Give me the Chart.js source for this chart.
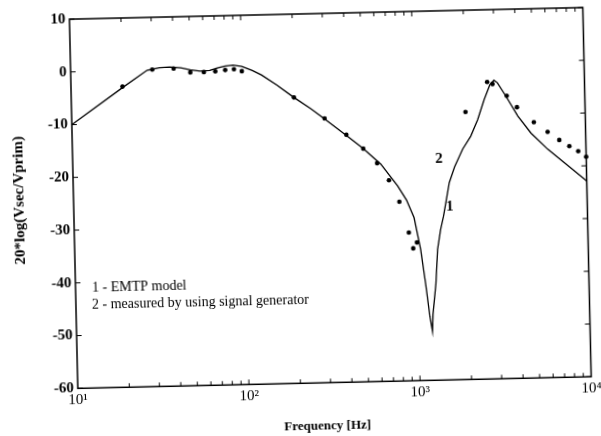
<!DOCTYPE html>
<html>
<head>
<meta charset="utf-8">
<script src="https://cdn.jsdelivr.net/npm/chart.js@4.4.0/dist/chart.umd.min.js"></script>
<style>
  html, body { margin: 0; padding: 0; background: #fff; overflow: hidden; }
  #wrap { width: 601px; height: 436px; position: relative; }
  /* the printed plot sits slightly tilted on the page */
  #c { position: absolute; left: 0; top: 0; transform: rotate(-1.3deg); transform-origin: 50% 50%; }
</style>
</head>
<body>
<div id="wrap"><canvas id="c" width="601" height="436"></canvas></div>
<script>
// Curve 1: EMTP model of the transformer transfer ratio
const modelFreq = [10, 20, 28, 33, 38, 44, 50, 57, 65, 72, 80, 89, 100, 115, 130, 160, 200,
                   250, 300, 400, 500, 630, 785, 880, 970, 1050, 1110, 1165, 1200, 1215, 1276, 1318, 1380,
                   1443, 1574, 1700, 1905, 2130, 2350, 2580, 2800, 2960, 3100, 3450, 4040, 4800, 5980, 7420, 10000];
const modelDb   = [-10, -3.2, 0.0, 0.4, 0.5, 0.3, -0.1, -0.4, -0.3, 0.1, 0.45, 0.6, 0.3, -0.5, -1.4, -3.4, -5.8,
                   -8.0, -10.0, -13.2, -15.8, -18.8, -23.0, -25.7, -29.1, -35.2, -41.6, -47.9, -50.7, -47.5, -41.6, -35.2, -31.5,
                   -28.9, -22.6, -19.6, -16.3, -13.9, -10.8, -7.0, -4.2, -3.4, -3.9, -6.4, -10.3, -13.6, -16.7, -19.3, -22.9];

// Curve 2: measured with a signal generator
const measFreq = [20, 30, 40, 50, 60, 70, 80, 90, 100, 200, 300, 400, 500, 600, 700, 800, 900, 950, 1000,
                  2000, 2700, 2900, 3500, 4000, 5000, 6000, 7000, 8000, 9000, 10000];
const measDb   = [-3.0, 0.1, 0.2, -0.6, -0.6, -0.5, -0.3, -0.2, -0.6, -5.8, -9.9, -13.1, -15.8, -18.6, -21.9, -26.0, -31.9, -34.9, -33.8,
                  -9.3, -3.7, -4.1, -6.4, -8.6, -11.5, -13.4, -15.0, -16.2, -17.2, -18.3];

const yTickValues = [10, 0, -10, -20, -30, -40, -50, -60];
const xDecades = [10, 100, 1000, 10000];
const xTickLabels = ['10\u00B9', '10\u00B2', '10\u00B3', '10\u2074'];
const legendLines = ['1 - EMTP model', '2 - measured by using signal generator'];
const curveTags = [
  { text: '1', f: 1574, db: -27.1 },
  { text: '2', f: 1380, db: -18.0 }
];

const serif = '"Liberation Serif", "Times New Roman", serif';

const modelPts = modelFreq.map((f, i) => ({ x: f, y: modelDb[i] }));
const measPts = measFreq.map((f, i) => ({ x: f, y: measDb[i] }));

// frame, inward ticks, titles and annotation text
const decor = {
  id: 'decor',
  afterDraw(chart) {
    const { ctx, chartArea: a, scales } = chart;
    const xs = scales.x, ys = scales.y;
    ctx.save();
    ctx.strokeStyle = '#000';
    ctx.lineWidth = 1.5;
    ctx.strokeRect(a.left, a.top, a.right - a.left, a.bottom - a.top);

    ctx.lineWidth = 1;
    ctx.beginPath();
    for (let d = 10; d < 10000; d *= 10) {
      for (let m = 1; m <= 9; m++) {
        const v = d * m;
        if (v === 10) continue;
        const px = xs.getPixelForValue(v);
        const len = m === 1 ? 5 : 4;
        ctx.moveTo(px, a.bottom); ctx.lineTo(px, a.bottom - len);
        ctx.moveTo(px, a.top); ctx.lineTo(px, a.top + len);
      }
    }
    yTickValues.forEach(v => {
      const py = ys.getPixelForValue(v);
      ctx.moveTo(a.left, py); ctx.lineTo(a.left + 5, py);
      ctx.moveTo(a.right, py); ctx.lineTo(a.right - 5, py);
    });
    ctx.stroke();

    ctx.fillStyle = '#000';
    ctx.textBaseline = 'middle';

    ctx.font = 'bold 13px ' + serif;
    ctx.textAlign = 'center';
    ctx.fillText('Frequency [Hz]', 323, 427);

    ctx.save();
    ctx.translate(20.5, 194);
    ctx.rotate(-Math.PI / 2);
    ctx.font = 'bold 15px ' + serif;
    ctx.fillText('20*log(Vsec/Vprim)', 0, 0);
    ctx.restore();

    ctx.font = '14px ' + serif;
    ctx.textAlign = 'left';
    ctx.fillText(legendLines[0], 90.5, 283.5);
    ctx.fillText(legendLines[1], 90, 300.5);

    ctx.font = 'bold 15px ' + serif;
    ctx.textAlign = 'center';
    curveTags.forEach(t => {
      ctx.fillText(t.text, xs.getPixelForValue(t.f), ys.getPixelForValue(t.db));
    });
    ctx.restore();
  }
};

new Chart(document.getElementById('c'), {
  type: 'scatter',
  data: {
    datasets: [
      {
        label: 'EMTP model',
        data: modelPts,
        showLine: true,
        borderColor: '#000',
        borderWidth: 1.3,
        pointRadius: 0,
        tension: 0,
        fill: false
      },
      {
        label: 'measured by using signal generator',
        data: measPts,
        showLine: false,
        pointRadius: 2.3,
        pointBackgroundColor: '#000',
        pointBorderWidth: 0,
        clip: false
      }
    ]
  },
  options: {
    responsive: false,
    devicePixelRatio: 1,
    animation: false,
    layout: { padding: { top: 14, right: 13.5, bottom: 0, left: 0 } },
    plugins: { legend: { display: false }, tooltip: { enabled: false } },
    scales: {
      x: {
        type: 'logarithmic',
        min: 10,
        max: 10000,
        grid: { display: false, drawTicks: false },
        border: { display: false },
        afterBuildTicks: s => { s.ticks = xDecades.map(v => ({ value: v })); },
        afterFit: s => { s.height = 52.7; },
        ticks: {
          autoSkip: false,
          maxRotation: 0,
          padding: 3,
          color: '#000',
          font: { family: serif, size: 15 },
          callback: v => {
            const i = xDecades.indexOf(v);
            return i >= 0 ? xTickLabels[i] : '';
          }
        }
      },
      y: {
        min: -60,
        max: 10,
        grid: { display: false, drawTicks: false },
        border: { display: false },
        afterBuildTicks: s => { s.ticks = yTickValues.map(v => ({ value: v })); },
        afterFit: s => { s.width = 74; },
        ticks: {
          padding: 4,
          color: '#000',
          font: { family: serif, size: 15, weight: 'bold' },
          callback: v => String(v)
        }
      }
    }
  },
  plugins: [decor]
});
</script>
</body>
</html>
